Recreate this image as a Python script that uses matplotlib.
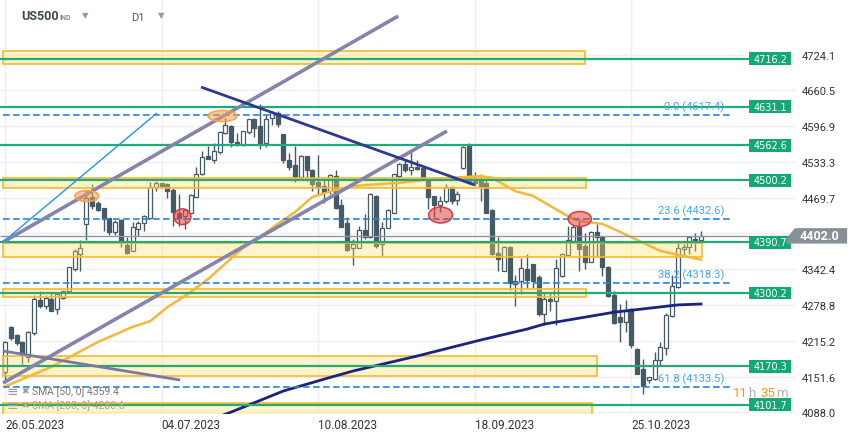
import numpy as np
import matplotlib.pyplot as plt
from matplotlib.patches import Rectangle, Ellipse, Polygon

plt.rcParams['font.family'] = ['Roboto', 'DejaVu Sans']

# x axis: one slot per trading day, labels every 27 bars
date_labels = ['26.05.2023', '04.07.2023', '10.08.2023', '18.09.2023', '25.10.2023']
date_idx = [0, 27, 54, 81, 108]

opens = [4160, 4240, 4225, 4213, 4187, 4229, 4288, 4277, 4290, 4272,
         4291, 4303, 4342, 4370, 4422, 4471, 4461, 4451, 4433, 4409,
         4430, 4385, 4375, 4414, 4424, 4433, 4489, 4495, 4494, 4484,
         4443, 4437, 4443, 4471, 4511, 4544, 4536, 4551, 4585, 4597,
         4568, 4564, 4586, 4609, 4597, 4567, 4612, 4621, 4582, 4537,
         4527, 4506, 4543, 4519, 4497, 4490, 4482, 4508, 4456, 4424,
         4380, 4381, 4412, 4399, 4473, 4388, 4416, 4443, 4509, 4530,
         4518, 4525, 4523, 4499, 4472, 4457, 4463, 4489, 4465, 4523,
         4562, 4499, 4503, 4495, 4447, 4372, 4339, 4382, 4317, 4321,
         4342, 4351, 4328, 4262, 4290, 4286, 4330, 4368, 4392, 4418,
         4384, 4356, 4409, 4399, 4347, 4297, 4257, 4248, 4271, 4201,
         4165, 4146, 4147, 4181, 4202, 4259, 4311, 4378, 4382, 4397,
         4394]
highs = [4215, 4241, 4227, 4215, 4232, 4297, 4303, 4297, 4302, 4300,
         4306, 4347, 4378, 4394, 4483, 4494, 4463, 4452, 4434, 4430,
         4431, 4400, 4426, 4428, 4439, 4497, 4499, 4496, 4495, 4486,
         4476, 4449, 4477, 4524, 4552, 4561, 4567, 4588, 4612, 4598,
         4584, 4589, 4610, 4612, 4637, 4618, 4624, 4624, 4583, 4549,
         4562, 4545, 4544, 4520, 4546, 4503, 4512, 4519, 4467, 4436,
         4396, 4419, 4440, 4478, 4474, 4427, 4449, 4512, 4531, 4539,
         4551, 4536, 4524, 4500, 4473, 4473, 4494, 4491, 4481, 4562,
         4567, 4515, 4512, 4509, 4449, 4399, 4383, 4383, 4333, 4363,
         4370, 4352, 4333, 4302, 4300, 4360, 4372, 4419, 4421, 4430,
         4406, 4411, 4422, 4400, 4348, 4303, 4280, 4287, 4273, 4202,
         4183, 4151, 4196, 4213, 4265, 4333, 4393, 4387, 4402, 4407,
         4411]
lows = [4143, 4217, 4208, 4174, 4178, 4226, 4274, 4271, 4268, 4263,
        4290, 4302, 4340, 4340, 4394, 4449, 4446, 4411, 4403, 4403,
        4382, 4370, 4374, 4402, 4411, 4432, 4482, 4489, 4469, 4420,
        4419, 4414, 4443, 4470, 4510, 4538, 4531, 4548, 4583, 4560,
        4561, 4562, 4583, 4577, 4557, 4560, 4598, 4595, 4532, 4518,
        4497, 4503, 4499, 4482, 4476, 4461, 4476, 4449, 4417, 4375,
        4350, 4380, 4396, 4398, 4380, 4366, 4415, 4442, 4501, 4516,
        4510, 4518, 4503, 4449, 4436, 4445, 4461, 4458, 4457, 4521,
        4494, 4491, 4464, 4442, 4368, 4339, 4339, 4306, 4277, 4299,
        4309, 4309, 4259, 4244, 4269, 4244, 4328, 4367, 4390, 4339,
        4342, 4355, 4366, 4330, 4293, 4245, 4213, 4231, 4203, 4156,
        4120, 4141, 4146, 4172, 4190, 4257, 4309, 4366, 4369, 4375,
        4392]
closes = [4213, 4220, 4211, 4190, 4231, 4290, 4277, 4291, 4269, 4299,
          4303, 4346, 4375, 4381, 4469, 4455, 4448, 4431, 4409, 4427,
          4390, 4372, 4417, 4424, 4437, 4489, 4495, 4490, 4482, 4445,
          4433, 4447, 4474, 4512, 4542, 4539, 4552, 4586, 4599, 4568,
          4565, 4588, 4609, 4593, 4565, 4610, 4622, 4600, 4536, 4525,
          4506, 4543, 4518, 4494, 4488, 4479, 4510, 4452, 4418, 4376,
          4387, 4412, 4399, 4477, 4384, 4416, 4447, 4511, 4530, 4518,
          4525, 4520, 4505, 4470, 4456, 4463, 4489, 4464, 4476, 4560,
          4497, 4495, 4491, 4443, 4369, 4360, 4382, 4318, 4322, 4344,
          4324, 4321, 4262, 4290, 4286, 4344, 4370, 4394, 4418, 4378,
          4356, 4409, 4399, 4346, 4294, 4247, 4249, 4269, 4207, 4157,
          4134, 4150, 4181, 4204, 4261, 4312, 4380, 4382, 4399, 4393,
          4402.0]

# moving averages
sma50_idx = [0, 8, 16, 22, 25, 28, 30, 32, 35, 41, 44, 47, 50, 53, 57, 60, 62,
             68, 74, 82, 84, 88, 91, 97, 99, 103, 106, 113, 120]
sma50_val = [4134, 4169, 4213, 4240, 4250, 4275, 4288, 4302, 4325, 4380, 4400,
             4423, 4444, 4471, 4483, 4490, 4492, 4496, 4503, 4508, 4505, 4481,
             4473, 4437, 4428, 4423, 4409, 4375, 4359.4]
sma200_idx = [36, 39, 45, 48, 51, 55, 60, 71, 82, 90, 93, 105, 116, 120]
sma200_val = [4077, 4088.6, 4113.5, 4126, 4135, 4147, 4161.5, 4188, 4216.6,
              4236, 4245, 4266, 4279, 4280.6]

levels = [4716.2, 4631.1, 4562.6, 4500.2, 4390.7, 4300.2, 4170.3, 4101.7]

fib_names = ['0.0', '23.6', '38.2', '61.8']
fib_vals = [4617.4, 4432.6, 4318.3, 4133.5]

zone_low = [4707.2, 4486.3, 4364.7, 4292.5, 4153.2, 4070.0]
zone_high = [4730.3, 4504.1, 4389.0, 4307.3, 4187.6, 4104.1]
zone_end = [100.0, 100.1, 120.1, 100.1, 102.1, 101.2]

# drawn trend lines: start idx/price, end idx/price
tl_x0 = [-0.34, -0.34, -0.34, 33.8, -0.34]
tl_y0 = [4140.2, 4390.8, 4390.8, 4666.3, 4197.1]
tl_x1 = [76.2, 67.8, 26.2, 81.0, 30.2]
tl_y1 = [4588.1, 4792.5, 4620.1, 4492.1, 4145.5]
tl_col = ['#8385ad', '#8385ad', '#2196f3', '#2f3894', '#7878a6']
tl_lw = [2.6, 2.6, 1.0, 2.0, 2.0]

# marker ellipses
ell_idx = [14.1, 37.5, 30.6, 75.1, 99.1]
ell_val = [4472.6, 4614.8, 4435.8, 4438.8, 4431.7]
ell_w = [4.1, 5.0, 2.9, 4.1, 4.0]
ell_h = [19.6, 19.6, 27.9, 28.4, 26.7]
ell_kind = ['orange', 'orange', 'red', 'red', 'red']

ytick_vals = [4724.1, 4660.5, 4596.9, 4533.3, 4469.7, 4406.1, 4342.4, 4278.8,
              4215.2, 4151.6, 4088.0]
ytick_text = ['4724.1', '4660.5', '4596.9', '4533.3', '4469.7', '', '4342.4',
              '4278.8', '4215.2', '4151.6', '4088.0']

W, H = 859, 439
fig = plt.figure(figsize=(W / 100, H / 100), dpi=100)
ax = fig.add_axes([0, 24 / H, 796 / W, 415 / H])
ax.set_xlim(-0.862, 136.38)
ax.set_ylim(4085.1, 4822.8)
for s in ax.spines.values():
    s.set_visible(False)

ax.set_xticks(date_idx)
ax.set_xticklabels(date_labels, ha='left', fontsize=8.5, color='#333333')
ax.yaxis.tick_right()
ax.set_yticks(ytick_vals)
ax.set_yticklabels(ytick_text, fontsize=8, color='#333333')
ax.tick_params(axis='x', length=0, pad=3)
ax.tick_params(axis='y', length=0, pad=4)
ax.grid(color='#efefef', lw=1, zorder=0)
ax.set_axisbelow(True)

# candles
dark = '#455a64'
for i in range(len(opens)):
    o, h, l, c = opens[i], highs[i], lows[i], closes[i]
    ax.vlines(i, l, h, color=dark, lw=1, zorder=2)
    bottom = min(o, c)
    height = max(abs(c - o), 1.2)
    face = 'white' if c >= o else dark
    ax.add_patch(Rectangle((i - 0.34, bottom), 0.68, height, fc=face, ec=dark,
                           lw=0.9, zorder=2.5))

# zones
for lo, hi, end in zip(zone_low, zone_high, zone_end):
    ax.add_patch(Rectangle((-0.34, lo), end + 0.34, hi - lo, fc='#ffe066',
                           alpha=0.35, ec='none', zorder=3))
    ax.add_patch(Rectangle((-0.34, lo), end + 0.34, hi - lo, fc='none',
                           ec='#f5b931', lw=1.2, zorder=3.1))

# moving averages
ax.plot(sma50_idx, sma50_val, color='#f6b73c', lw=1.8, zorder=4)
ax.plot(sma200_idx, sma200_val, color='#1a237e', lw=2, zorder=4)

# horizontal levels with labels
green = '#13a874'
ax.hlines(levels, -0.862, 128.3, color='#22aa7a', lw=1.6, zorder=4)
for lv in levels:
    ax.add_patch(Rectangle((128.3, lv - 11.5), 7.2, 23, fc=green, ec='none',
                           zorder=7, clip_on=False))
    ax.text(131.9, lv, f'{lv:.1f}', ha='center', va='center', color='white',
            fontsize=7, family='DejaVu Sans', zorder=8, clip_on=False)

# fibonacci levels
ax.hlines(fib_vals, -0.34, 125, colors='#1e88e5', lw=1.2,
          linestyles=(0, (4, 2)), zorder=4)
for nm, fv in zip(fib_names, fib_vals):
    ax.annotate(f'{nm} ({fv})', xy=(124.0, fv), xytext=(0, 6),
                textcoords='offset points', ha='right', va='center',
                color='#42a5f5', fontsize=8, zorder=7)

# trend lines
for x0, y0, x1, y1, col, lw in zip(tl_x0, tl_y0, tl_x1, tl_y1, tl_col, tl_lw):
    ax.plot([x0, x1], [y0, y1], color=col, lw=lw, zorder=5,
            solid_capstyle='butt')

# ellipses
for x, y, w, h, k in zip(ell_idx, ell_val, ell_w, ell_h, ell_kind):
    if k == 'orange':
        fc, ec = (0.96, 0.62, 0.30, 0.55), '#f4a24f'
    else:
        fc, ec = (0.89, 0.27, 0.27, 0.55), '#d93a3a'
    ax.add_patch(Ellipse((x, y), w, h, fc=fc, ec=ec, lw=1.1, zorder=6))

# current price line and tag
last = closes[-1]
ax.hlines(last, -0.862, 135.0, color='#8d979c', lw=1, zorder=4.5)
tag = Polygon([(134.8, last - 14.0), (134.8, last - 4.0), (136.2, last + 13.5),
               (145.2, last + 13.5), (145.2, last - 14.0)],
              closed=True, fc='#879096', ec='none', zorder=9, clip_on=False)
ax.add_patch(tag)
ax.text(140.4, last, f'{last:.1f}', ha='center', va='center', color='white',
        fontsize=9, fontweight='bold', zorder=10, clip_on=False)

# header
fig.text(21 / W, 1 - 17 / H, 'US500', fontsize=9, fontweight='bold',
         color='#3a4750', va='center', ha='left')
fig.text(60 / W, 1 - 18 / H, 'IND', fontsize=5, fontweight='bold',
         color='#8a8a8a', va='center', ha='left')
fig.text(82 / W, 1 - 16 / H, '▼', fontsize=6, color='#9a9a9a', va='center',
         ha='left', family='DejaVu Sans')
fig.text(131 / W, 1 - 18 / H, 'D1', fontsize=8, color='#555555', va='center',
         ha='left')
fig.text(158 / W, 1 - 16 / H, '▼', fontsize=6, color='#9a9a9a', va='center',
         ha='left', family='DejaVu Sans')

# indicator legend
fig.text(7 / W, 1 - 392 / H, '≡', fontsize=10, color='#999999', va='center',
         ha='left', family='DejaVu Sans')
fig.text(21 / W, 1 - 392 / H, '✖', fontsize=6.5, color='#999999', va='center',
         ha='left', family='DejaVu Sans')
fig.text(32 / W, 1 - 392 / H, 'SMA [50, 0] 4359.4', fontsize=7.5,
         color='#777777', va='center', ha='left')
fig.text(7 / W, 1 - 406 / H, '≡', fontsize=10, color='#a8a690', va='center',
         ha='left', family='DejaVu Sans')
fig.text(21 / W, 1 - 406 / H, '✖', fontsize=6.5, color='#a8a690', va='center',
         ha='left', family='DejaVu Sans')
fig.text(32 / W, 1 - 406 / H, 'SMA [200, 0] 4280.6', fontsize=7.5,
         color='#a8a690', va='center', ha='left')

# countdown, pieces chained one after another
orange = '#f7941d'
pieces = [('h', '#b0b0b0', 0.6), ('35', orange, 3.0), ('m', '#b0b0b0', 0.6)]
prev = fig.text(733 / W, 1 - 394 / H, '11', fontsize=9.5, color=orange,
                va='center', ha='left')
for txt, col, gap in pieces:
    prev = ax.annotate(txt, xy=(1, 0.5), xycoords=prev, xytext=(gap, 0),
                       textcoords='offset points', fontsize=9.5, color=col,
                       va='center', ha='left', annotation_clip=False)

fig.savefig('out.png', dpi=100)
